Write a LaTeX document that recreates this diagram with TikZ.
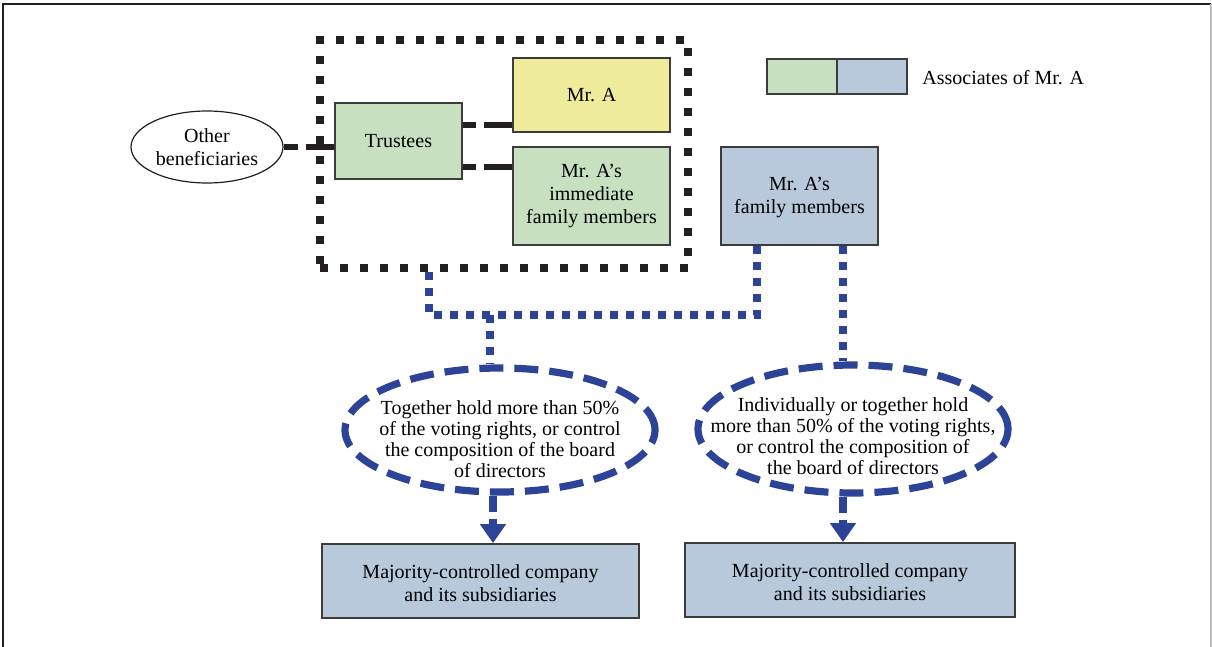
\documentclass[tikz,border=0pt]{standalone}
\usepackage{fontspec}
\setmainfont{Liberation Serif}
\usetikzlibrary{shapes.geometric,arrows.meta}
\definecolor{trgreen}{HTML}{C6E0C0}
\definecolor{mryellow}{HTML}{EEEC9B}
\definecolor{fmblue}{HTML}{B8C9DC}
\definecolor{lineblue}{HTML}{2C4398}
\definecolor{inkblack}{HTML}{231F20}
\definecolor{edgegrey}{HTML}{3C3C3C}
\tikzset{
  box/.style={draw=edgegrey, line width=0.6pt, align=center, inner sep=0pt,
    font=\fontsize{10}{11.5}\selectfont},
  greenbox/.style={box, fill=trgreen},
  yellowbox/.style={box, fill=mryellow},
  bluebox/.style={box, fill=fmblue},
  lowbox/.style={box, fill=fmblue, line width=0.9pt},
  groupbox/.style={draw=inkblack, line width=4pt, dash pattern=on 4pt off 6pt,
    inner sep=0pt},
  tielink/.style={draw=inkblack, line width=3pt, dash pattern=on 14pt off 4pt},
  bluelink/.style={draw=lineblue, line width=3.6pt, dash pattern=on 4pt off 4pt},
  ruleoval/.style={ellipse, draw=lineblue, line width=3.6pt,
    dash pattern=on 12pt off 5.5pt, inner sep=0pt},
  ovaltext/.style={align=center, inner sep=0pt, font=\fontsize{10}{10.6}\selectfont},
  plainoval/.style={ellipse, draw=inkblack, line width=0.6pt, inner sep=0pt},
  downarrow/.style={draw=lineblue, line width=3.6pt, dash pattern=on 8pt off 3.5pt,
    -{Triangle[width=12.5pt,length=9.5pt]}, lineblue}
}
\begin{document}
\begin{tikzpicture}[x=0.5pt, y=-0.5pt]
  % page frame
  \useasboundingbox (0,0) rectangle (1212,647);
  \draw[inkblack, line width=1pt] (3,647) -- (3,4) -- (1211,4);
  \draw[black!25, line width=0.6pt] (1211,4) -- (1211,647);

  % legend
  \node[greenbox, minimum width=35pt, minimum height=17.5pt] (lg) at (802,76.5) {};
  \node[bluebox, minimum width=35pt, minimum height=17.5pt] (lb) at (872,76.5) {};
  \node[anchor=west, font=\fontsize{10}{11.5}\selectfont, inner sep=0pt] (lt) at (922,78) {Associates of Mr. A};

  % trust group
  \node[groupbox, minimum width=184pt, minimum height=114pt] (grp) at (504,154) {};
  \node[greenbox, minimum width=63.5pt, minimum height=38pt] (tr) at (398.5,141) {\raisebox{-1pt}{Trustees}};
  \node[yellowbox, minimum width=78.5pt, minimum height=37pt] (ma) at (591.5,95) {Mr. A};
  \node[greenbox, minimum width=78.5pt, minimum height=49pt] (im) at (591.5,196)
    {Mr. A’s\\immediate\\family members};
  \node[plainoval, minimum width=76pt, minimum height=36pt] (ob) at (207,147) {};
  \node[ovaltext, font=\fontsize{10}{11.5}\selectfont] (obt) at (ob.center) {Other\\beneficiaries};

  \draw[tielink] (ma.west |- 0,125) -- (tr.east |- 0,125);
  \draw[tielink] (im.west |- 0,167) -- (tr.east |- 0,167);
  \draw[tielink] (tr.west |- ob.east) -- (ob.east);

  % family members
  \node[bluebox, minimum width=78.5pt, minimum height=49pt] (fm) at (799.5,196) {};
  \node[align=center, inner sep=0pt, font=\fontsize{10}{11.5}\selectfont] (fmt)
    at ([yshift=-1pt]fm.center) {Mr. A’s\\family members};

  % control conditions
  \node[ruleoval, minimum width=155pt, minimum height=62pt] (c1) at (500,430) {};
  \node[ovaltext] (c1t) at ([yshift=-4.5pt]c1.center)
    {Together hold more than 50\%\\of the voting rights, or control\\the composition of the board\\of directors};
  \node[ruleoval, minimum width=155pt, minimum height=64pt] (c2) at (853,429) {};
  \node[ovaltext] (c2t) at ([yshift=-3.5pt]c2.center)
    {Individually or together hold\\more than 50\% of the voting rights,\\or control the composition of\\the board of directors};

  % controlled companies
  \node[lowbox, minimum width=158.5pt, minimum height=37pt] (k1) at (480.5,581) {};
  \node[align=center, inner sep=0pt, font=\fontsize{10}{11.5}\selectfont] (k1t)
    at ([yshift=-1pt]k1.center) {Majority-controlled company\\and its subsidiaries};
  \node[lowbox, minimum width=165pt, minimum height=37pt] (k2) at (850,580) {};
  \node[align=center, inner sep=0pt, font=\fontsize{10}{11.5}\selectfont] (k2t)
    at ([yshift=-1pt]k2.center) {Majority-controlled company\\and its subsidiaries};

  % blue links
  \coordinate (ja) at (429,315);
  \coordinate (jb) at (757,315);
  \coordinate (jm) at (490,315);
  \coordinate (xa) at (493,0);
  \coordinate (xb) at (843,0);
  \draw[bluelink] (grp.south -| ja) -- (ja) -- (jb) -- (fm.south -| jb);
  \draw[bluelink] (jm) -- (jm |- c1.north);
  \draw[bluelink] (fm.south -| xb) -- (xb |- c2.north);

  \draw[downarrow] (xa |- c1.south) -- (xa |- k1.north);
  \draw[downarrow] (xb |- c2.south) -- (xb |- k2.north);
\end{tikzpicture}
\end{document}
